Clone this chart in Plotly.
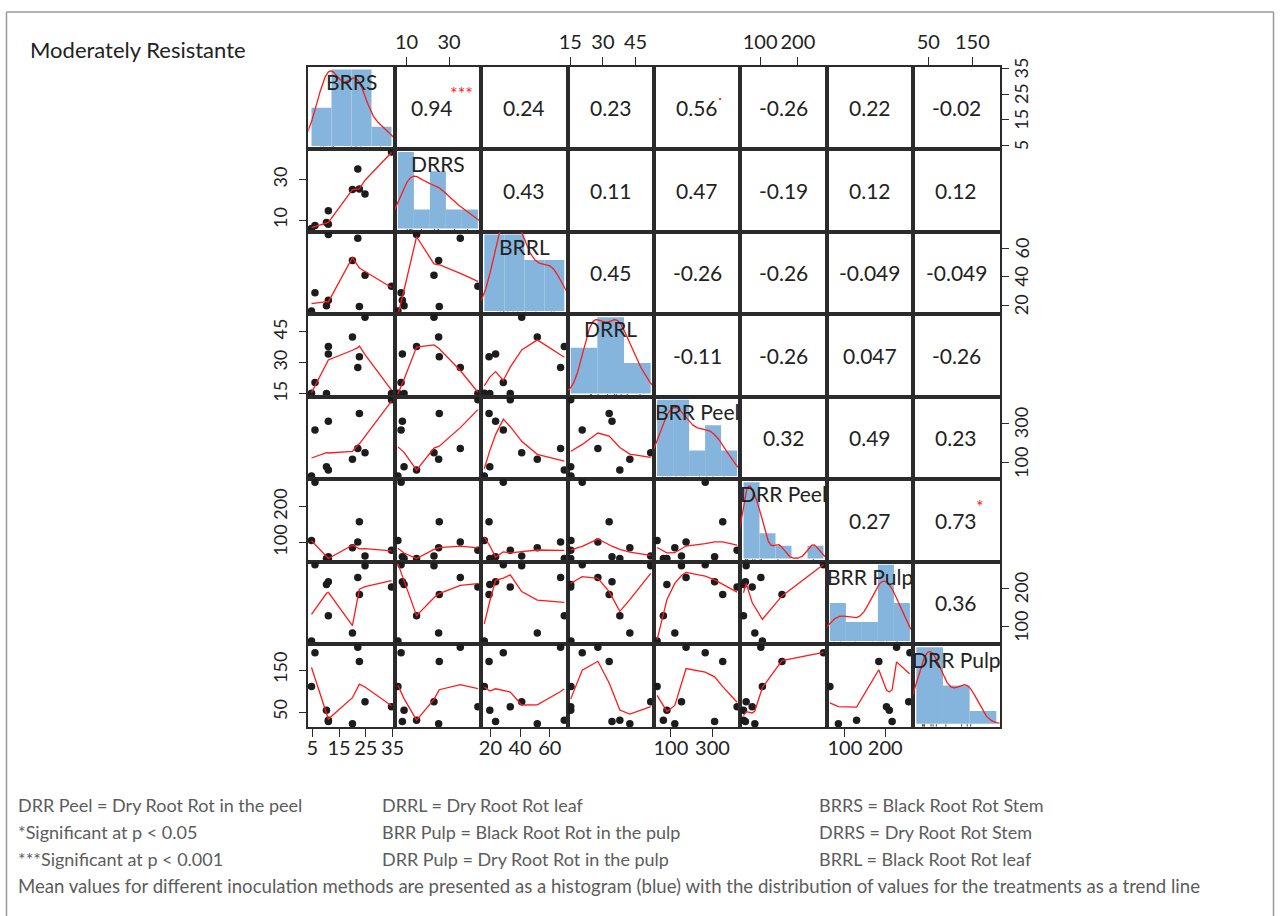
import numpy as np
import plotly.graph_objects as go

# ---------------- data ----------------
var_names = ["BRRS", "DRRS", "BRRL", "DRRL", "BRR Peel", "DRR Peel", "BRR Pulp", "DRR Pulp"]

brrs = [4.7, 6.0, 11.0, 11.0, 10.3, 20.0, 22.0, 22.6, 24.7, 34.6]
drrs = [5.9, 7.4, 14.7, 8.0, 8.8, 25.1, 35.3, 25.4, 22.9, 43.6]
brrl = [15.9, 28.7, 69.8, 23.5, 19.6, 51.6, 67.3, 19.1, 41.1, 33.4]
drrl = [15.3, 20.5, 37.8, 34.2, 15.2, 42.4, 27.7, 32.9, 52.0, 15.2]
brr_peel = [34, 265, 64, 310, 81, 119, 173, 349, 151, 418]
drr_peel = [106, 268, 56, 61, 56, 86, 102, 158, 63, 79]
brr_pulp = [63, 261, 129, 217, 210, 84, 228, 184, 258, 203]
drr_pulp = [111, 191, 31, 28, 55, 23, 204, 170, 75, 63]

tick_vals = [[5, 15, 25, 35], [10, 30], [20, 40, 60], [15, 30, 45],
             [100, 300], [100, 200], [100, 200], [50, 150]]

hist_breaks = [[0, 10, 20, 30, 40],
               [0, 10, 20, 30, 40, 50],
               [0, 20, 40, 60, 80],
               [0, 20, 40, 60],
               [0, 100, 200, 300, 400, 500],
               [50, 100, 150, 200, 250, 300],
               [50, 100, 150, 200, 250, 300],
               [0, 100, 200, 300]]
hist_counts = [[2, 4, 4, 1],
               [4, 1, 3, 1, 1],
               [3, 3, 2, 2],
               [3, 5, 2],
               [3, 3, 1, 2, 1],
               [6, 2, 1, 0, 1],
               [2, 1, 1, 4, 2],
               [6, 3, 1]]

# upper-triangle correlation labels: (row, col, value, significance)
corr_rows = [0, 0, 0, 0, 0, 0, 0, 1, 1, 1, 1, 1, 1, 2, 2, 2, 2, 2, 3, 3, 3, 3, 4, 4, 4, 5, 5, 6]
corr_cols = [1, 2, 3, 4, 5, 6, 7, 2, 3, 4, 5, 6, 7, 3, 4, 5, 6, 7, 4, 5, 6, 7, 5, 6, 7, 6, 7, 7]
corr_vals = ["0.94", "0.24", "0.23", "0.56", "-0.26", "0.22", "-0.02",
             "0.43", "0.11", "0.47", "-0.19", "0.12", "0.12",
             "0.45", "-0.26", "-0.26", "-0.049", "-0.049",
             "-0.11", "-0.26", "0.047", "-0.26",
             "0.32", "0.49", "0.23",
             "0.27", "0.73",
             "0.36"]
corr_sig = ["***", "", "", ".", "", "", "",
            "", "", "", "", "", "",
            "", "", "", "", "",
            "", "", "", "",
            "", "", "",
            "", "*",
            ""]

title_text = "Moderately Resistante"
caption_col1 = ["DRR Peel = Dry Root Rot in the peel", "*Significant at p < 0.05", "***Significant at p < 0.001"]
caption_col2 = ["DRRL = Dry Root Rot leaf", "BRR Pulp = Black Root Rot in the pulp", "DRR Pulp = Dry Root Rot in the pulp"]
caption_col3 = ["BRRS = Black Root Rot Stem", "DRRS = Dry Root Rot Stem", "BRRL = Black Root Rot leaf"]
caption_note = ("Mean values for different inoculation methods are presented as a histogram (blue) "
                "with the distribution of values for the treatments as a trend line")

data_cols = [brrs, drrs, brrl, drrl, brr_peel, drr_peel, brr_pulp, drr_pulp]


# ---------------- statistics used by R's chart (lowess, density) ----------------
def _lowest(x, y, xs, nleft, nright, w, userw, rw):
    n = len(x)
    rng_ = x[-1] - x[0]
    h = max(xs - x[nleft], x[nright] - xs)
    h9, h1 = 0.999 * h, 0.001 * h
    a = 0.0
    j = nleft
    while j < n:
        w[j] = 0.0
        r = abs(x[j] - xs)
        if r <= h9:
            w[j] = 1.0 if r <= h1 else (1.0 - (r / h) ** 3) ** 3
            if userw:
                w[j] *= rw[j]
            a += w[j]
        elif x[j] > xs:
            break
        j += 1
    nrt = j - 1
    if a <= 0.0:
        return 0.0, False
    for j in range(nleft, nrt + 1):
        w[j] /= a
    if h > 0.0:
        a = sum(w[j] * x[j] for j in range(nleft, nrt + 1))
        b = xs - a
        c = sum(w[j] * (x[j] - a) ** 2 for j in range(nleft, nrt + 1))
        if np.sqrt(c) > 0.001 * rng_:
            b /= c
            for j in range(nleft, nrt + 1):
                w[j] *= (b * (x[j] - a) + 1.0)
    return sum(w[j] * y[j] for j in range(nleft, nrt + 1)), True


def lowess(xv, yv, f=2.0 / 3.0, nsteps=3):
    xv = np.asarray(xv, float)
    yv = np.asarray(yv, float)
    o = np.argsort(xv, kind="stable")
    x, y = xv[o], yv[o]
    n = len(x)
    delta = 0.01 * (x[-1] - x[0])
    ys = np.zeros(n)
    rw = np.zeros(n)
    w = np.zeros(n)
    ns = max(min(int(f * n + 1e-7), n), 2)
    it = 1
    while it <= nsteps + 1:
        nleft, nright, last, i = 0, ns - 1, -1, 0
        while True:
            if nright < n - 1:
                if x[i] - x[nleft] > x[nright + 1] - x[i]:
                    nleft += 1
                    nright += 1
                    continue
            val, ok = _lowest(x, y, x[i], nleft, nright, w, it > 1, rw)
            ys[i] = val if ok else y[i]
            if last < i - 1:
                denom = x[i] - x[last]
                for j in range(last + 1, i):
                    alpha = (x[j] - x[last]) / denom
                    ys[j] = alpha * ys[i] + (1 - alpha) * ys[last]
            last = i
            cut = x[last] + delta
            i = last + 1
            while i < n:
                if x[i] > cut:
                    break
                if x[i] == x[last]:
                    ys[i] = ys[last]
                    last = i
                i += 1
            i = max(last + 1, i - 1)
            if last >= n - 1:
                break
        res = y - ys
        sc = np.sum(np.abs(res)) / n
        if it > nsteps:
            break
        ar = np.abs(res)
        srt = np.sort(ar)
        m1 = n // 2
        cmad = 3.0 * (srt[m1] + srt[n - m1 - 1]) if n % 2 == 0 else 6.0 * srt[m1]
        if cmad < 1e-7 * sc:
            break
        c9, c1 = 0.999 * cmad, 0.001 * cmad
        rw = np.where(ar <= c1, 1.0, np.where(ar <= c9, (1 - (ar / cmad) ** 2) ** 2, 0.0))
        it += 1
    return x, ys


def density(v):
    v = np.asarray(v, float)
    sd = np.std(v, ddof=1)
    q75, q25 = np.percentile(v, [75, 25])
    lo = min(sd, (q75 - q25) / 1.34)
    if lo <= 0:
        lo = sd if sd > 0 else 1.0
    bw = 0.9 * lo * len(v) ** (-0.2)
    g = np.linspace(v.min() - 3 * bw, v.max() + 3 * bw, 512)
    d = np.exp(-0.5 * ((g[:, None] - v[None, :]) / bw) ** 2).sum(1) / (len(v) * bw * np.sqrt(2 * np.pi))
    return g, d


def ext(lo, hi):
    r = hi - lo
    return [lo - 0.04 * r, hi + 0.04 * r]


# ---------------- layout geometry ----------------
W, H = 1281, 916
GL, GR, GT, GB = 308.3, 999.5, 66.5, 726.7
N = len(var_names)
DX = (GR - GL) / N
DY = (GB - GT) / N
FONT = "Lato"
INK = "#222222"
LINE = "#2b2b2b"
BLUE = "#85b5dd"
RED = "#ff1a1a"
GREY_TXT = "#5c5c5c"


def an(k):
    return "" if k == 1 else str(k)


fig = go.Figure()
layout = dict(width=W, height=H, margin=dict(l=0, r=0, t=0, b=0, pad=0, autoexpand=False),
              paper_bgcolor="white", plot_bgcolor="white", showlegend=False,
              font=dict(family=FONT, color=INK))
annotations = []

for i in range(N):
    for j in range(N):
        k = i * N + j + 1
        x0 = GL + j * DX
        x1 = x0 + DX
        y0 = GT + i * DY
        y1 = y0 + DY
        xa = dict(domain=[x0 / W, x1 / W], anchor="y" + an(k), showgrid=False, zeroline=False,
                  showline=True, mirror=True, linecolor=LINE, linewidth=1.6, automargin=False,
                  ticks="", showticklabels=False, fixedrange=True)
        ya = dict(domain=[1 - y1 / H, 1 - y0 / H], anchor="x" + an(k), showgrid=False, zeroline=False,
                  showline=True, mirror=True, linecolor=LINE, linewidth=1.6, automargin=False,
                  ticks="", showticklabels=False, fixedrange=True)
        xr_ref = "x" + an(k)
        yr_ref = "y" + an(k)
        if i == j:
            b = np.asarray(hist_breaks[i], float)
            c = np.asarray(hist_counts[i], float)
            wid = np.diff(b)
            dens = c / (c.sum() * wid)
            xr = ext(b[0], b[-1])
            yr = ext(0, dens.max())
            fig.add_trace(go.Bar(x=(b[:-1] + b[1:]) / 2, y=dens, width=wid,
                                 marker=dict(color=BLUE, line=dict(width=0)),
                                 xaxis=xr_ref, yaxis=yr_ref, hoverinfo="skip"))
            g, d = density(data_cols[i])
            fig.add_trace(go.Scatter(x=g, y=d, mode="lines", line=dict(color=RED, width=1.3),
                                     xaxis=xr_ref, yaxis=yr_ref, hoverinfo="skip"))
            rx, ry = [], []
            rug_top = yr[0] + 0.03 * (yr[1] - yr[0])
            for v in data_cols[i]:
                rx += [v, v, None]
                ry += [yr[0], rug_top, None]
            fig.add_trace(go.Scatter(x=rx, y=ry, mode="lines", line=dict(color="#444444", width=1),
                                     xaxis=xr_ref, yaxis=yr_ref, hoverinfo="skip"))
            annotations.append(dict(x=(x0 + x1) / 2 / W, y=1 - (y0 + 0.18 * DY) / H,
                                    xref="paper", yref="paper", text=var_names[i], showarrow=False,
                                    font=dict(family=FONT, size=21, color=INK),
                                    xanchor="center", yanchor="middle"))
        else:
            xr = ext(min(data_cols[j]), max(data_cols[j]))
            yr = ext(min(data_cols[i]), max(data_cols[i]))
            if i > j:
                fig.add_trace(go.Scatter(x=data_cols[j], y=data_cols[i], mode="markers",
                                         marker=dict(color="#1c1c1c", size=7.5),
                                         xaxis=xr_ref, yaxis=yr_ref, hoverinfo="skip", cliponaxis=False))
                lx, ly = lowess(data_cols[j], data_cols[i])
                fig.add_trace(go.Scatter(x=lx, y=ly, mode="lines", line=dict(color=RED, width=1.3),
                                         xaxis=xr_ref, yaxis=yr_ref, hoverinfo="skip"))
            else:
                # empty panel holder so the frame and outer axes are drawn
                fig.add_trace(go.Scatter(x=[sum(xr) / 2], y=[sum(yr) / 2], mode="markers",
                                         marker=dict(opacity=0, size=1),
                                         xaxis=xr_ref, yaxis=yr_ref, hoverinfo="skip"))
        xa["range"] = xr
        ya["range"] = yr
        xtick = dict(ticks="outside", ticklen=8, tickwidth=1.4, tickcolor=LINE,
                     showticklabels=True, tickfont=dict(family=FONT, size=20, color=INK))
        ytick = dict(ticks="outside", ticklen=8, tickwidth=1.4, tickcolor=LINE,
                     showticklabels=True, tickfont=dict(family=FONT, size=18, color=INK))
        if i == 0 and j % 2 == 1:
            xa.update(xtick, side="top", tickvals=tick_vals[j], ticklabelstandoff=0)
        if i == N - 1 and j % 2 == 0:
            xa.update(xtick, side="bottom", tickvals=tick_vals[j], ticklabelstandoff=-6)
        if j == N - 1 and i % 2 == 0:
            ya.update(ytick, side="right", tickvals=tick_vals[i], showticklabels=False)
            # right-side labels, rotated, placed on this panel's own y scale
            for tv in tick_vals[i]:
                annotations.append(dict(x=1021 / W, y=tv, xref="paper", yref=yr_ref,
                                        text=str(tv), textangle=-90, showarrow=False,
                                        font=dict(family=FONT, size=18, color=INK),
                                        xanchor="center", yanchor="middle"))
        if j == 0 and i % 2 == 1:
            ya.update(ytick, side="left", tickvals=tick_vals[i], tickangle=-90, ticklabelstandoff=4)
        layout["xaxis" + an(k)] = xa
        layout["yaxis" + an(k)] = ya

# correlation labels
for r, c, v, s in zip(corr_rows, corr_cols, corr_vals, corr_sig):
    x0 = GL + c * DX
    y0 = GT + r * DY
    cx = x0 + DX / 2 - (6 if s == "***" else 0)
    annotations.append(dict(x=cx / W, y=1 - (y0 + DY / 2) / H, xref="paper", yref="paper",
                            text=v, showarrow=False, font=dict(family=FONT, size=21, color=INK),
                            xanchor="center", yanchor="middle"))
    if s:
        annotations.append(dict(x=(x0 + 0.77 * DX) / W, y=1 - (y0 + 0.32 * DY) / H, xref="paper", yref="paper",
                                text=s, showarrow=False, font=dict(family=FONT, size=18, color=RED),
                                xanchor="center", yanchor="middle"))

# title and caption
annotations.append(dict(x=28 / W, y=1 - 50 / H, xref="paper", yref="paper", text=title_text,
                        showarrow=False, xanchor="left", yanchor="middle",
                        font=dict(family=FONT, size=22, color=INK)))
cap_y = [805, 832, 859]
for col_x, lines in zip([16, 380, 817], [caption_col1, caption_col2, caption_col3]):
    for yy, t in zip(cap_y, lines):
        annotations.append(dict(x=col_x / W, y=1 - yy / H, xref="paper", yref="paper", text=t,
                                showarrow=False, xanchor="left", yanchor="middle",
                                font=dict(family=FONT, size=18, color=GREY_TXT)))
annotations.append(dict(x=16 / W, y=1 - 886 / H, xref="paper", yref="paper", text=caption_note,
                        showarrow=False, xanchor="left", yanchor="middle",
                        font=dict(family=FONT, size=18.6, color=GREY_TXT)))

layout["annotations"] = annotations
layout["shapes"] = [
    dict(type="line", xref="paper", yref="paper", x0=6.5 / W, x1=1273.5 / W, y0=1 - 12 / H, y1=1 - 12 / H,
         line=dict(color="#9a9a9a", width=1.5)),
    dict(type="line", xref="paper", yref="paper", x0=6.5 / W, x1=6.5 / W, y0=1 - 12 / H, y1=-0.01,
         line=dict(color="#9a9a9a", width=1.5)),
    dict(type="line", xref="paper", yref="paper", x0=1273.5 / W, x1=1273.5 / W, y0=1 - 12 / H, y1=-0.01,
         line=dict(color="#9a9a9a", width=1.5)),
]
fig.update_layout(**layout)

fig.write_html("out.html", config={"displayModeBar": False},
               post_script="document.body.style.margin='0';")
